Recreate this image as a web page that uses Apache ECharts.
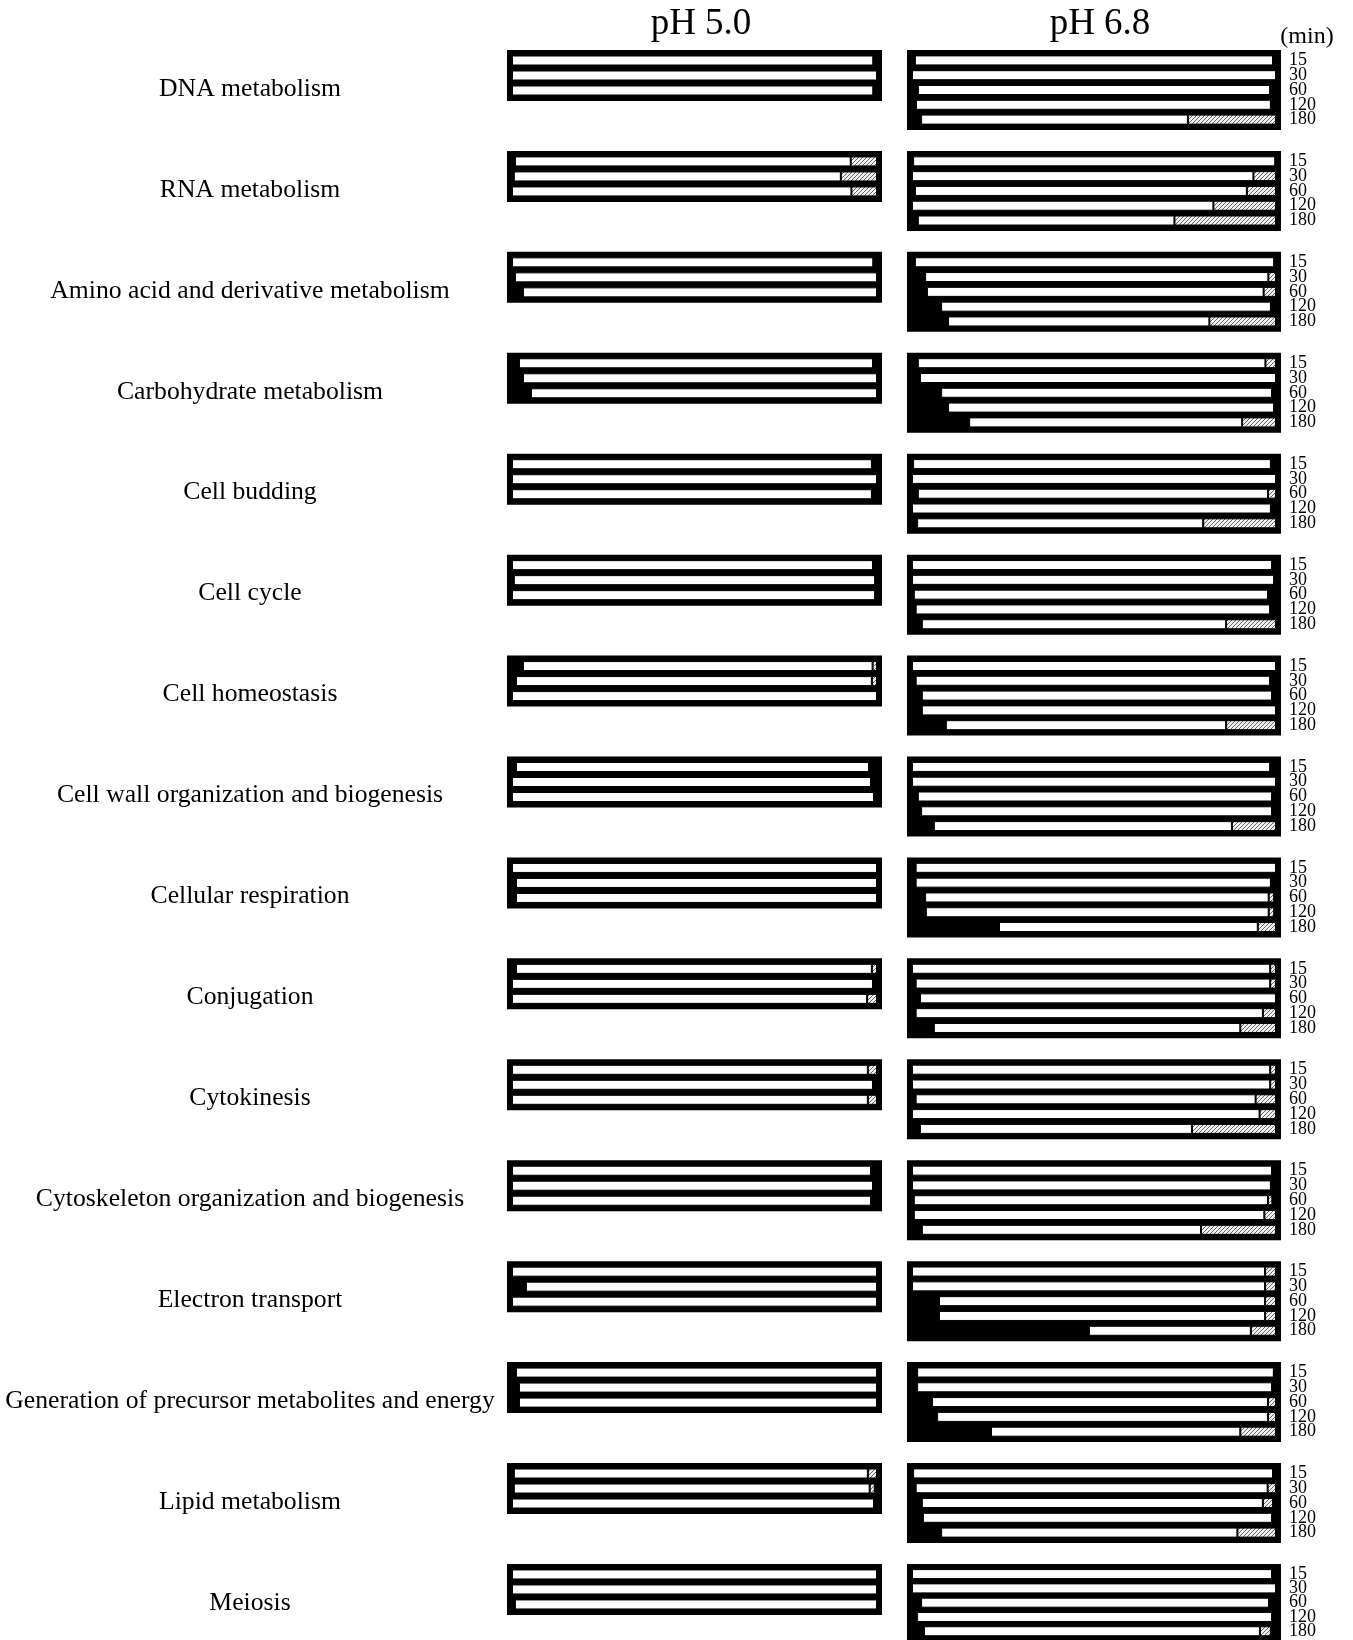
<!DOCTYPE html>
<html><head><meta charset="utf-8">
<script src="https://cdn.jsdelivr.net/npm/echarts@6/dist/echarts.min.js"></script>
<style>html,body{margin:0;padding:0;background:#fff}#c{width:1353px;height:1640px}</style>
</head><body><div id="c"></div>
<script>
const categories = ['DNA metabolism','RNA metabolism','Amino acid and derivative metabolism','Carbohydrate metabolism','Cell budding','Cell cycle','Cell homeostasis','Cell wall organization and biogenesis','Cellular respiration','Conjugation','Cytokinesis','Cytoskeleton organization and biogenesis','Electron transport','Generation of precursor metabolites and energy','Lipid metabolism','Meiosis'];
const panelTitles = ['pH 5.0','pH 6.8'];
const times50 = ['15','30','60'];
const times68 = ['15','30','60','120','180'];
const unitLabel = '(min)';

// percentage of genes: up (black), no change (white), down (hatched)
const up50 = [[0,0,0],[0.8,0.5,0],[0,0.8,3],[1.9,3,5.2],[0,0,0],[0,0.5,0],[3,1.1,0],[1.1,0,0],[0,1.1,1.1],[1.1,0,0],[0,0,0],[0,0,0],[0,3.8,0],[1.1,1.9,1.9],[0.5,0.5,0],[0,0,0.8]];
const nc50 = [[99,100,99],[92,89.6,93],[99,99.2,97],[97,97,94.8],[98.6,100,98.6],[98.9,99,99.5],[95.8,97.5,100],[96.7,98.4,99.2],[100,98.9,98.9],[97.5,98.9,97.3],[97.5,98.9,97.5],[98.4,98.9,98.4],[100,96.2,100],[98.9,98.1,98.1],[97,97.5,99.2],[100,100,99.2]];
const dn50 = [[0,0,0],[7.2,9.9,7],[0,0,0],[0,0,0],[0,0,0],[0,0,0],[1.2,1.4,0],[0,0,0],[0,0,0],[1.4,0,2.7],[2.5,0,2.5],[0,0,0],[0,0,0],[0,0,0],[2.5,1.4,0],[0,0,0]];

const up68 = [[0.8,0,1.6,1.1,2.5],[0.3,0,0.8,0,1.6],[0.8,3.6,4.1,8,9.9],[1.6,2.2,8,9.9,15.7],[0.3,0,1.6,0,1.4],[0,0,0.5,1,2.7],[0,1,2.7,2.7,9.3],[0,0,1.6,2.5,6],[1,1,3.6,3.8,23.9],[0,1,2.2,1,6],[0,0,1,0,2.2],[0,0,0.5,0.5,2.7],[0,0,7.4,7.4,48.6],[1.4,1.4,5.5,6.9,21.7],[0.3,1,2.7,3,8],[0,0,2.5,1.4,3.3]];
const nc68 = [[98.4,100,96.8,97.5,73.3],[99.5,93.8,91.2,82.8,70.5],[98.7,94.3,92.5,90.6,71.8],[95.5,97.8,90.9,89.6,75],[98.3,100,96.2,98.6,78.6],[98.9,99.5,97.3,97.4,83.6],[100,97.4,96.2,97.3,77],[98.4,100,97.3,96.4,81.9],[99,97.6,94.4,94.2,71.1],[98.4,97.4,97.8,95.4,84.2],[98.4,98.4,93.4,95.5,74.7],[98.9,98.6,97.3,96.3,76.7],[97,97,89.6,89.6,44.5],[98,97.5,92.3,90.9,68.5],[98.9,96.7,93.7,95.9,81.4],[98.9,100,95.6,97.5,92.3]];
const dn68 = [[0,0,0,0,24.2],[0,6.2,8,17.2,27.9],[0,2.1,3.4,0,18.3],[2.9,0,0,0,9.3],[0,0,2.2,0,20],[0,0,0,0,13.7],[0,0,0,0,13.7],[0,0,0,0,12.1],[0,0,1.5,1.5,5],[1.6,1.6,0,3.6,9.8],[1.6,1.6,5.6,4.5,23.1],[0,0,1.2,3.2,20.6],[3,3,3,3,6.9],[0,0,2.2,2.2,9.8],[0,2.3,2.8,0,10.6],[0,0,0,0,3]];

function hatchPattern(){
  const c = document.createElement('canvas'); c.width = 4; c.height = 4;
  const g = c.getContext('2d');
  g.fillStyle = '#f0f0f0'; g.fillRect(0,0,4,4);
  g.strokeStyle = '#666'; g.lineWidth = 1;
  g.beginPath();
  g.moveTo(0,4); g.lineTo(4,0);
  g.moveTo(-1,1); g.lineTo(1,-1);
  g.moveTo(3,5); g.lineTo(5,3);
  g.stroke();
  return c;
}
const hatch = {image: hatchPattern(), repeat: 'repeat'};
const FONT = '"Liberation Serif","Times New Roman",serif';

const grids = [], xAxes = [], yAxes = [], series = [], graphics = [];
const ROW0 = 50, ROWSTEP = 100.93;
categories.forEach((cat, i) => {
  const top = ROW0 + ROWSTEP * i;
  const panels = [
    {left: 510, width: 369, height: 45, times: times50, up: up50[i], nc: nc50[i], dn: dn50[i], labels: false},
    {left: 910, width: 368, height: 74, times: times68, up: up68[i], nc: nc68[i], dn: dn68[i], labels: true}
  ];
  panels.forEach(p => {
    const gi = grids.length;
    grids.push({left: p.left, width: p.width, top: top + 3, height: p.height, show: true,
      backgroundColor: '#000', borderColor: '#000', borderWidth: 6, containLabel: false});
    xAxes.push({type: 'value', gridIndex: gi, min: -0.55, max: 100.55, show: false});
    yAxes.push({type: 'category', gridIndex: gi, data: p.times, inverse: true, position: 'right',
      show: p.labels, axisLine: {show: false}, axisTick: {show: false}, splitLine: {show: false},
      axisLabel: {show: p.labels, interval: 0, hideOverlap: false, margin: 11, fontSize: 18, lineHeight: 14,
        fontFamily: FONT, color: '#000', align: 'left'}});
    const stack = 's' + gi;
    series.push({type: 'bar', xAxisIndex: gi, yAxisIndex: gi, stack, barWidth: 10, data: p.up,
      itemStyle: {color: '#000'}, silent: true});
    series.push({type: 'bar', xAxisIndex: gi, yAxisIndex: gi, stack, barWidth: 10, data: p.nc,
      itemStyle: {color: '#fff', borderColor: '#000', borderWidth: 1}, silent: true});
    series.push({type: 'bar', xAxisIndex: gi, yAxisIndex: gi, stack, barWidth: 10, data: p.dn,
      itemStyle: {color: hatch, borderColor: '#000', borderWidth: 1}, silent: true});
  });
  graphics.push({type: 'text', x: 250, y: top + 39,
    style: {text: cat, font: '25.7px ' + FONT, fill: '#000', textAlign: 'center', textVerticalAlign: 'middle'}});
});
graphics.push({type: 'text', x: 701, y: 24, style: {text: panelTitles[0], font: '37px ' + FONT, fill: '#000', textAlign: 'center', textVerticalAlign: 'middle'}});
graphics.push({type: 'text', x: 1100, y: 24, style: {text: panelTitles[1], font: '37px ' + FONT, fill: '#000', textAlign: 'center', textVerticalAlign: 'middle'}});
graphics.push({type: 'text', x: 1307, y: 37, style: {text: unitLabel, font: '24px ' + FONT, fill: '#000', textAlign: 'center', textVerticalAlign: 'middle'}});

const chart = echarts.init(document.getElementById('c'), null, {renderer: 'canvas'});
chart.setOption({
  animation: false,
  backgroundColor: '#fff',
  grid: grids, xAxis: xAxes, yAxis: yAxes, series: series,
  graphic: graphics
});
</script></body></html>
